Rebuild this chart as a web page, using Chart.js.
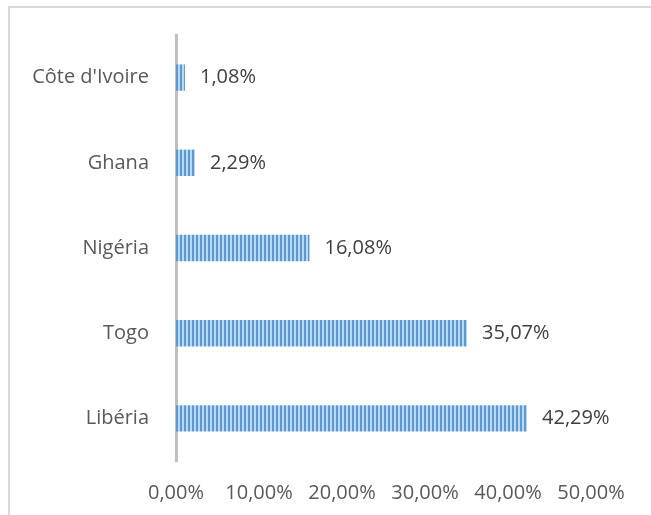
<!DOCTYPE html>
<html lang="fr">

<head>
    <meta charset="UTF-8">
    <title>Pays</title>
    <script src="https://cdn.jsdelivr.net/npm/chart.js"></script>
</head>
<style>
    body {
        margin: 0;
        background: #ffffff;
    }

    .moldura {
        position: absolute;
        left: 8px;
        top: 6px;
        width: 700px;
        height: 560px;
        border: 2px solid #d9d9d9;
    }

    .container {
        position: absolute;
        left: 0;
        top: 0;
        width: 651px;
        height: 515px;
    }
</style>

<body>
    <div class="moldura"></div>
    <div class="container">
        <canvas id="GraficoBarra"></canvas>
    </div>
</body>

</html>

<script>
    const paises = ["Côte d'Ivoire", "Ghana", "Nigéria", "Togo", "Libéria"];
    const porcentagens = [1.08, 2.29, 16.08, 35.07, 42.29];
    const ticksX = [0, 10, 20, 30, 40, 50];

    function formata(v) {
        return v.toFixed(2).replace('.', ',') + '%';
    }

    // listras verticais das barras
    var padrao = document.createElement('canvas');
    padrao.width = 4;
    padrao.height = 4;
    var pc = padrao.getContext('2d');
    pc.fillStyle = '#bdd7ee';
    pc.fillRect(0, 0, 4, 4);
    pc.fillStyle = '#5b9bd5';
    pc.fillRect(0, 0, 2, 4);

    const rotulos = {
        id: 'rotulos',
        afterDatasetsDraw(chart) {
            var ctx = chart.ctx;
            var meta = chart.getDatasetMeta(0);
            ctx.save();
            ctx.font = '20px "Open Sans"';
            ctx.fillStyle = '#404040';
            ctx.textAlign = 'left';
            ctx.textBaseline = 'middle';
            meta.data.forEach(function (barra, i) {
                ctx.fillText(formata(porcentagens[i]), barra.x + 15, barra.y);
            });
            ctx.restore();
        }
    };

    var grafico = document.getElementById('GraficoBarra');
    var ctxPadrao = grafico.getContext('2d').createPattern(padrao, 'repeat');

    var barChart = new Chart(grafico, {
        type: 'bar',
        data: {
            labels: paises,
            datasets: [{
                label: 'Porcentagem',
                data: porcentagens,
                backgroundColor: ctxPadrao,
                borderWidth: 0,
                categoryPercentage: 1,
                barPercentage: 0.31
            }]
        },
        options: {
            indexAxis: 'y',
            responsive: true,
            maintainAspectRatio: false,
            animation: false,
            layout: {
                padding: { left: 0, right: 60, top: 35, bottom: 0 }
            },
            plugins: {
                legend: { display: false },
                tooltip: { enabled: false }
            },
            scales: {
                x: {
                    min: 0,
                    max: 50,
                    afterBuildTicks: function (axis) {
                        axis.ticks = ticksX.map(function (v) { return { value: v }; });
                    },
                    afterFit: function (axis) {
                        axis.height = 54;
                    },
                    grid: { display: false, drawTicks: false },
                    border: { display: false },
                    ticks: {
                        padding: 20,
                        color: '#595959',
                        font: { family: '"Open Sans"', size: 20 },
                        callback: function (v) { return formata(v); }
                    }
                },
                y: {
                    afterFit: function (axis) {
                        axis.width = 176;
                        axis.paddingTop = 0;
                        axis.paddingBottom = 0;
                    },
                    grid: { drawOnChartArea: false, drawTicks: false },
                    border: { display: true, color: '#bfbfbf', width: 3 },
                    ticks: {
                        padding: 27,
                        color: '#595959',
                        font: { family: '"Open Sans"', size: 20 }
                    }
                }
            }
        },
        plugins: [rotulos]
    });
</script>
